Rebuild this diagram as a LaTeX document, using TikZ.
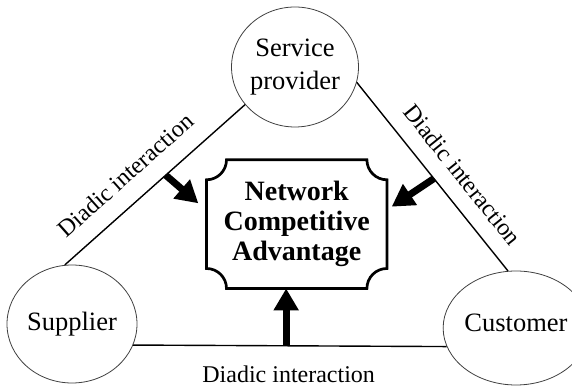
\documentclass[tikz,border=0pt]{standalone}
\usepackage{fontspec}
\setmainfont{Liberation Serif}
\usetikzlibrary{shapes.geometric,arrows.meta}
\begin{document}
\begin{tikzpicture}[x=1pt,y=1pt,
  party/.style={ellipse, draw=black!75, line width=0.8pt, inner sep=0pt,
    font=\fontsize{26.5}{33}\selectfont, align=center},
  tie/.style={draw, line width=1.4pt},
  lab/.style={font=\fontsize{24}{28}\selectfont, inner xsep=0pt, text depth=0pt},
  push/.style={line width=7pt, -{Triangle[length=22pt,width=24pt]}}
]
\useasboundingbox (0,0) rectangle (572,387);

\node[party, minimum width=124pt, minimum height=120pt] (sp) at (295,320) {Service\\provider};
\node[party, minimum width=130pt, minimum height=118pt, text height=19pt, text depth=5pt] (sup) at (72,63) {Supplier};
\node[party, minimum width=128pt, minimum height=114pt, text height=16pt, text depth=8pt] (cus) at (516,59) {Customer};

\node[font=\bfseries\fontsize{28}{30}\selectfont, align=center,
  minimum width=180pt, minimum height=128.3pt, inner sep=0pt] (nca) at (296.7,162.85)
  {Network\\Competitive\\Advantage};
\draw[line width=2.7pt]
  ([xshift=20pt]nca.north west) -- ([xshift=-20pt]nca.north east)
  arc[start angle=180,end angle=270,radius=20pt]
  -- ([yshift=20pt]nca.south east)
  arc[start angle=90,end angle=180,radius=20pt]
  -- ([xshift=20pt]nca.south west)
  arc[start angle=0,end angle=90,radius=20pt]
  -- ([yshift=-20pt]nca.north west)
  arc[start angle=270,end angle=360,radius=20pt]
  -- cycle;

\draw[tie] (sup.97) -- (sp.217)
  node[lab, sloped, pos=0.435, anchor=south, inner ysep=18pt] {Diadic interaction}
  coordinate[pos=0.56] (la);
\draw[tie] (sp.346) -- (cus.98)
  node[lab, sloped, pos=0.572, anchor=south, inner ysep=16pt] {Diadic interaction}
  coordinate[pos=0.51] (ra);
\draw[tie] (sup.341) -- (cus.195)
  node[lab, pos=0.496, anchor=north, text height=16.4pt, inner ysep=19.8pt] {Diadic interaction}
  coordinate[pos=0.488] (ba);

\coordinate (lt) at (198.3,183.7);
\coordinate (rt) at (391.7,180.3);
\draw[push] (la) -- (lt);
\draw[push] (ra) -- (rt);
\draw[push] (ba) -- (ba |- nca.south);
\end{tikzpicture}
\end{document}
